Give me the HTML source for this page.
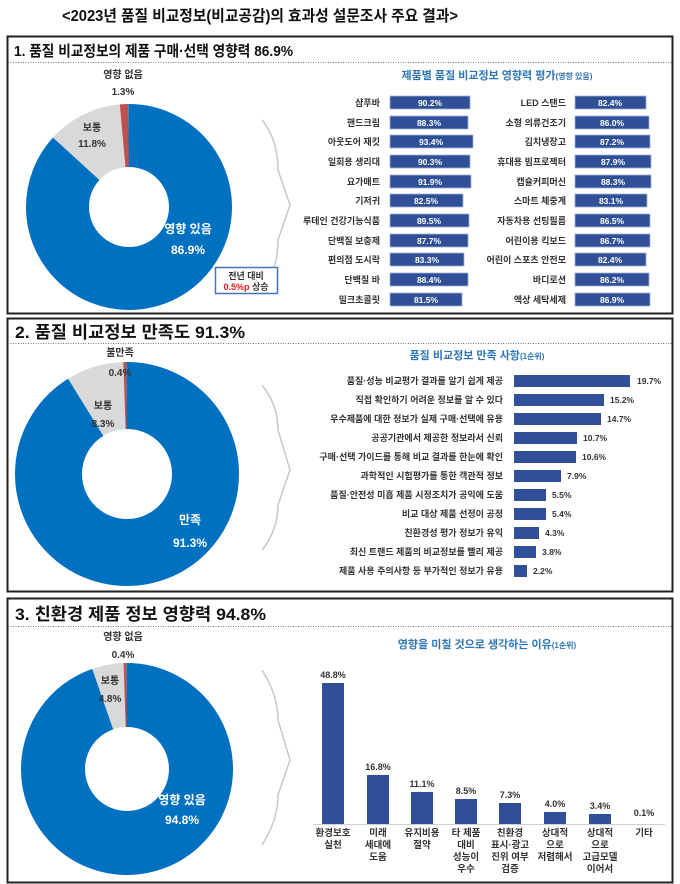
<!DOCTYPE html>
<html><head><meta charset="utf-8"><style>
html,body{margin:0;padding:0;background:#fff;}
svg{display:block;font-family:"Liberation Sans","Noto Sans CJK KR",sans-serif;}
</style></head><body>
<svg width="680" height="884" viewBox="0 0 680 884" xmlns="http://www.w3.org/2000/svg">
<text x="62" y="21" font-size="15.5" font-weight="bold" fill="#111" textLength="396" lengthAdjust="spacingAndGlyphs">&lt;2023년 품질 비교정보(비교공감)의 효과성 설문조사 주요 결과&gt;</text>

<!-- Panels -->
<rect x="7.5" y="36.5" width="665" height="277" fill="none" stroke="#222" stroke-width="2"/>
<line x1="8" y1="62.5" x2="672" y2="62.5" stroke="#777" stroke-dasharray="1 1.5"/>
<text x="14" y="56" font-size="15" font-weight="bold" fill="#111" textLength="279" lengthAdjust="spacingAndGlyphs">1. 품질 비교정보의 제품 구매·선택 영향력 86.9%</text>

<rect x="7.5" y="318.5" width="665" height="273" fill="none" stroke="#222" stroke-width="2"/>
<line x1="8" y1="343.5" x2="672" y2="343.5" stroke="#777" stroke-dasharray="1 1.5"/>
<text x="15" y="338" font-size="17" font-weight="bold" fill="#111" textLength="230" lengthAdjust="spacingAndGlyphs">2. 품질 비교정보 만족도 91.3%</text>

<rect x="7.5" y="598.5" width="665" height="284" fill="none" stroke="#222" stroke-width="2"/>
<line x1="8" y1="626.5" x2="672" y2="626.5" stroke="#777" stroke-dasharray="1 1.5"/>
<text x="15" y="620" font-size="17" font-weight="bold" fill="#111" textLength="251" lengthAdjust="spacingAndGlyphs">3. 친환경 제품 정보 영향력 94.8%</text>

<!-- chevrons -->
<g fill="none" stroke="#c8c8c8" stroke-width="1.5">
<path d="M262 120 Q278 140 278 170 L290 205 L278 240 Q278 270 262 290"/>
<path d="M262 385 Q278 405 278 430 L290 470 L278 505 Q278 530 262 550"/>
<path d="M262 670 Q278 695 278 720 L290 760 L278 795 Q278 820 262 845"/>
</g>

<!-- Donut 1 -->
<g transform="rotate(-90 129 207)" fill="none" stroke-width="63">
<circle cx="129" cy="207" r="71.5" pathLength="100" stroke="#0070c0" stroke-dasharray="86.9 13.1"/>
<circle cx="129" cy="207" r="71.5" pathLength="100" stroke="#d9d9d9" stroke-dasharray="11.8 88.2" stroke-dashoffset="-86.9"/>
<circle cx="129" cy="207" r="71.5" pathLength="100" stroke="#c0504d" stroke-dasharray="1.3 98.7" stroke-dashoffset="-98.7"/>
</g>
<g font-size="10" font-weight="bold" text-anchor="middle" fill="#333">
<text x="123" y="78">영향 없음</text><text x="123" y="95">1.3%</text>
<text x="92" y="131">보통</text><text x="92" y="147">11.8%</text>
</g>
<g font-size="12" font-weight="bold" text-anchor="middle" fill="#fff">
<text x="188" y="233">영향 있음</text><text x="188" y="254">86.9%</text>
</g>
<rect x="215.5" y="267.5" width="62" height="26" fill="#fff" stroke="#4472c4" stroke-width="1.5"/>
<text x="246" y="279" font-size="9" font-weight="bold" text-anchor="middle" fill="#333">전년 대비</text>
<text x="246" y="290" font-size="9" font-weight="bold" text-anchor="middle" fill="#333"><tspan fill="#e02020">0.5%p</tspan> 상승</text>

<!-- Bar chart 1 -->
<text x="497" y="79" font-size="11" font-weight="bold" text-anchor="middle" fill="#2e75b6">제품별 품질 비교정보 영향력 평가<tspan font-size="8">(영향 있음)</tspan></text>
<g font-size="9" font-weight="bold" fill="#333">
<g text-anchor="end">
<text x="380" y="106">샴푸바</text><text x="380" y="126">핸드크림</text><text x="380" y="145">아웃도어 재킷</text><text x="380" y="165">일회용 생리대</text><text x="380" y="185">요가매트</text><text x="380" y="204">기저귀</text><text x="380" y="224">루테인 건강기능식품</text><text x="380" y="244">단백질 보충제</text><text x="380" y="263">편의점 도시락</text><text x="380" y="283">단백질 바</text><text x="380" y="303">밀크초콜릿</text>
<text x="566" y="106">LED 스탠드</text><text x="566" y="126">소형 의류건조기</text><text x="566" y="145">김치냉장고</text><text x="566" y="165">휴대용 빔프로젝터</text><text x="566" y="185">캡슐커피머신</text><text x="566" y="204">스마트 체중계</text><text x="566" y="224">자동차용 선팅필름</text><text x="566" y="244">어린이용 킥보드</text><text x="566" y="263">어린이 스포츠 안전모</text><text x="566" y="283">바디로션</text><text x="566" y="303">액상 세탁세제</text>
</g>
</g>
<g fill="#2f4f96" stroke="#9fb3d9" stroke-width="0.8">
<rect x="390" y="96" width="80" height="13"/><rect x="390" y="116" width="78" height="13"/><rect x="390" y="135" width="83" height="13"/><rect x="390" y="155" width="80" height="13"/><rect x="390" y="175" width="81" height="13"/><rect x="390" y="194" width="73" height="13"/><rect x="390" y="214" width="79" height="13"/><rect x="390" y="234" width="78" height="13"/><rect x="390" y="253" width="74" height="13"/><rect x="390" y="273" width="78" height="13"/><rect x="390" y="293" width="72" height="13"/>
<rect x="575" y="96" width="71" height="13"/><rect x="575" y="116" width="74" height="13"/><rect x="575" y="135" width="75" height="13"/><rect x="575" y="155" width="76" height="13"/><rect x="575" y="175" width="76" height="13"/><rect x="575" y="194" width="72" height="13"/><rect x="575" y="214" width="75" height="13"/><rect x="575" y="234" width="75" height="13"/><rect x="575" y="253" width="71" height="13"/><rect x="575" y="273" width="74" height="13"/><rect x="575" y="293" width="75" height="13"/>
</g>
<g font-size="8.5" font-weight="bold" fill="#fff" text-anchor="middle">
<text x="430" y="106">90.2%</text><text x="429" y="126">88.3%</text><text x="431" y="145">93.4%</text><text x="430" y="165">90.3%</text><text x="430" y="185">91.9%</text><text x="426" y="204">82.5%</text><text x="429" y="224">89.5%</text><text x="429" y="244">87.7%</text><text x="427" y="263">83.3%</text><text x="429" y="283">88.4%</text><text x="426" y="303">81.5%</text>
<text x="610" y="106">82.4%</text><text x="612" y="126">86.0%</text><text x="612" y="145">87.2%</text><text x="613" y="165">87.9%</text><text x="613" y="185">88.3%</text><text x="611" y="204">83.1%</text><text x="612" y="224">86.5%</text><text x="612" y="244">86.7%</text><text x="610" y="263">82.4%</text><text x="612" y="283">86.2%</text><text x="612" y="303">86.9%</text>
</g>

<!-- Donut 2 -->
<g transform="rotate(-90 127 474)" fill="none" stroke-width="67">
<circle cx="127" cy="474" r="78.5" pathLength="100" stroke="#0070c0" stroke-dasharray="91.3 8.7"/>
<circle cx="127" cy="474" r="78.5" pathLength="100" stroke="#d9d9d9" stroke-dasharray="8.3 91.7" stroke-dashoffset="-91.3"/>
<circle cx="127" cy="474" r="78.5" pathLength="100" stroke="#c0504d" stroke-dasharray="0.4 99.6" stroke-dashoffset="-99.6"/>
</g>
<g font-size="10" font-weight="bold" text-anchor="middle" fill="#333">
<text x="120" y="356">불만족</text><text x="120" y="376">0.4%</text>
<text x="103" y="409">보통</text><text x="103" y="427">8.3%</text>
</g>
<g font-size="12" font-weight="bold" text-anchor="middle" fill="#fff">
<text x="190" y="524">만족</text><text x="190" y="547">91.3%</text>
</g>

<!-- Bar chart 2 -->
<text x="477" y="359" font-size="11" font-weight="bold" text-anchor="middle" fill="#2e75b6">품질 비교정보 만족 사항<tspan font-size="8">(1순위)</tspan></text>
<g font-size="9" font-weight="bold" fill="#333" text-anchor="end">
<text x="503" y="384">품질·성능 비교평가 결과를 알기 쉽게 제공</text>
<text x="503" y="403">직접 확인하기 어려운 정보를 알 수 있다</text>
<text x="503" y="422">우수제품에 대한 정보가 실제 구매·선택에 유용</text>
<text x="503" y="441">공공기관에서 제공한 정보라서 신뢰</text>
<text x="503" y="460">구매·선택 가이드를 통해 비교 결과를 한눈에 확인</text>
<text x="503" y="479">과학적인 시험평가를 통한 객관적 정보</text>
<text x="503" y="498">품질·안전성 미흡 제품 시정조치가 공익에 도움</text>
<text x="503" y="517">비교 대상 제품 선정이 공정</text>
<text x="503" y="536">친환경성 평가 정보가 유익</text>
<text x="503" y="555">최신 트랜드 제품의 비교정보를 빨리 제공</text>
<text x="503" y="574">제품 사용 주의사항 등 부가적인 정보가 유용</text>
</g>
<g fill="#2f4f96">
<rect x="514" y="375" width="116" height="12"/><rect x="514" y="394" width="90" height="12"/><rect x="514" y="413" width="87" height="12"/><rect x="514" y="432" width="63" height="12"/><rect x="514" y="451" width="62" height="12"/><rect x="514" y="470" width="47" height="12"/><rect x="514" y="489" width="32" height="12"/><rect x="514" y="508" width="32" height="12"/><rect x="514" y="527" width="25" height="12"/><rect x="514" y="546" width="22" height="12"/><rect x="514" y="565" width="13" height="12"/>
</g>
<g font-size="8.5" font-weight="bold" fill="#333">
<text x="637" y="384">19.7%</text><text x="610" y="403">15.2%</text><text x="607" y="422">14.7%</text><text x="583" y="441">10.7%</text><text x="582" y="460">10.6%</text><text x="567" y="479">7.9%</text><text x="552" y="498">5.5%</text><text x="552" y="517">5.4%</text><text x="545" y="536">4.3%</text><text x="542" y="555">3.8%</text><text x="533" y="574">2.2%</text>
</g>

<!-- Donut 3 -->
<g transform="rotate(-90 127 769)" fill="none" stroke-width="64">
<circle cx="127" cy="769" r="74" pathLength="100" stroke="#0070c0" stroke-dasharray="94.8 5.2"/>
<circle cx="127" cy="769" r="74" pathLength="100" stroke="#d9d9d9" stroke-dasharray="4.8 95.2" stroke-dashoffset="-94.8"/>
<circle cx="127" cy="769" r="74" pathLength="100" stroke="#c0504d" stroke-dasharray="0.4 99.6" stroke-dashoffset="-99.6"/>
</g>
<g font-size="10" font-weight="bold" text-anchor="middle" fill="#333">
<text x="123" y="640">영향 없음</text><text x="123" y="658">0.4%</text>
<text x="110" y="684">보통</text><text x="110" y="702">4.8%</text>
</g>
<g font-size="12" font-weight="bold" text-anchor="middle" fill="#fff">
<text x="182" y="804">영향 있음</text><text x="182" y="824">94.8%</text>
</g>

<!-- Bar chart 3 -->
<text x="487" y="648" font-size="11" font-weight="bold" text-anchor="middle" fill="#2e75b6">영향을 미칠 것으로 생각하는 이유<tspan font-size="8">(1순위)</tspan></text>
<line x1="313" y1="824.5" x2="665" y2="824.5" stroke="#d0d0d0"/>
<g fill="#2f4f96">
<rect x="322" y="683" width="22" height="141"/><rect x="367" y="775" width="22" height="49"/><rect x="411" y="792" width="22" height="32"/><rect x="455" y="799" width="22" height="25"/><rect x="499" y="803" width="22" height="21"/><rect x="544" y="812" width="22" height="12"/><rect x="589" y="814" width="22" height="10"/>
</g>
<g font-size="9" font-weight="bold" fill="#333" text-anchor="middle">
<text x="333" y="678">48.8%</text><text x="378" y="770">16.8%</text><text x="422" y="787">11.1%</text><text x="466" y="794">8.5%</text><text x="510" y="798">7.3%</text><text x="555" y="807">4.0%</text><text x="600" y="809">3.4%</text><text x="644" y="816">0.1%</text>
</g>
<g font-size="9.5" font-weight="bold" fill="#333" text-anchor="middle">
<text x="333" y="836">환경보호</text><text x="333" y="848">실천</text>
<text x="378" y="836">미래</text><text x="378" y="848">세대에</text><text x="378" y="860">도움</text>
<text x="422" y="836">유지비용</text><text x="422" y="848">절약</text>
<text x="466" y="836">타 제품</text><text x="466" y="848">대비</text><text x="466" y="860">성능이</text><text x="466" y="872">우수</text>
<text x="510" y="836">친환경</text><text x="510" y="848">표시·광고</text><text x="510" y="860">진위 여부</text><text x="510" y="872">검증</text>
<text x="555" y="836">상대적</text><text x="555" y="848">으로</text><text x="555" y="860">저렴해서</text>
<text x="600" y="836">상대적</text><text x="600" y="848">으로</text><text x="600" y="860">고급모델</text><text x="600" y="872">이어서</text>
<text x="644" y="836">기타</text>
</g>
</svg>
</body></html>
